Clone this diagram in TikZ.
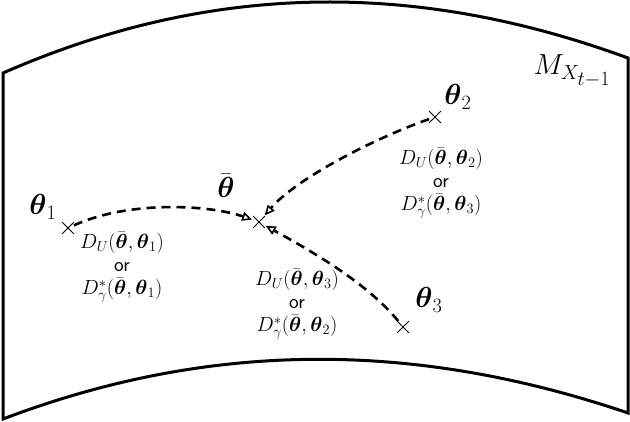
\RequirePackage{fix-cm}
\documentclass[tikz,border=0pt]{standalone}
\usepackage{amsmath}
\usetikzlibrary{arrows.meta,shapes.misc}
\tikzset{
  sheet/.style={line width=3pt, line join=miter},
  xmark/.style={cross out, draw, line width=0.8pt, minimum size=11pt, inner sep=0pt},
  arrow/.style={-{Triangle[open, length=10pt, width=9pt, line width=1.6pt]}, line width=2.6pt, dash pattern=on 9pt off 6pt, shorten >=1pt},
  dist/.style={align=center, font=\fontsize{20.5}{23}\selectfont},
  lbl/.style={font=\fontsize{29}{34}\selectfont}
}
\newcommand{\bth}{\boldsymbol{\theta}}

\begin{document}
\begin{tikzpicture}[x=1pt, y=-1pt]
  \useasboundingbox (0,0) rectangle (630,422);
  % the manifold sheet
  \draw[sheet] (3,73) .. controls (213,-19) and (418,-19) .. (628,58) -- (628,413)
    .. controls (418,341.6) and (213,339.2) .. (3,419) -- cycle;
  \node[lbl, anchor=base west] (mlab) at (530,75) {$M_{\scriptstyle X_{\scriptstyle t-1}}$};

  % points
  \node[xmark] (t1) at (68,228) {};
  \node[xmark] (tbar) at (259,222) {};
  \node[xmark] (t2) at (435,117) {};
  \node[xmark] (t3) at (403,327) {};
  \node[lbl] (t1lab) at (43,207) {$\bth_1$};
  \node[lbl] (tbarlab) at (226,186) {$\bar{\bth}$};
  \node[lbl] (t2lab) at (458,97) {$\bth_2$};
  \node[lbl] (t3lab) at (429,300) {$\bth_3$};

  % divergences
  \node[dist] (d1) at (122,267) {$D_U(\bar{\bth},\bth_1)$\\ \textsf{or}\\ $D^{*}_{\gamma}(\bar{\bth},\bth_1)$};
  \node[dist] (d2) at (441,183) {$D_U(\bar{\bth},\bth_2)$\\ \textsf{or}\\ $D^{*}_{\gamma}(\bar{\bth},\bth_3)$};
  \node[dist] (d3) at (297,304) {$D_U(\bar{\bth},\bth_3)$\\ \textsf{or}\\ $D^{*}_{\gamma}(\bar{\bth},\bth_2)$};

  \draw[arrow] (t1) .. controls (130,200) and (210,205) .. (tbar);
  \draw[arrow] (t2) .. controls (370,140) and (295,180) .. (tbar);
  \draw[arrow] (t3) .. controls (365,280) and (300,245) .. (tbar);
\end{tikzpicture}
\end{document}
